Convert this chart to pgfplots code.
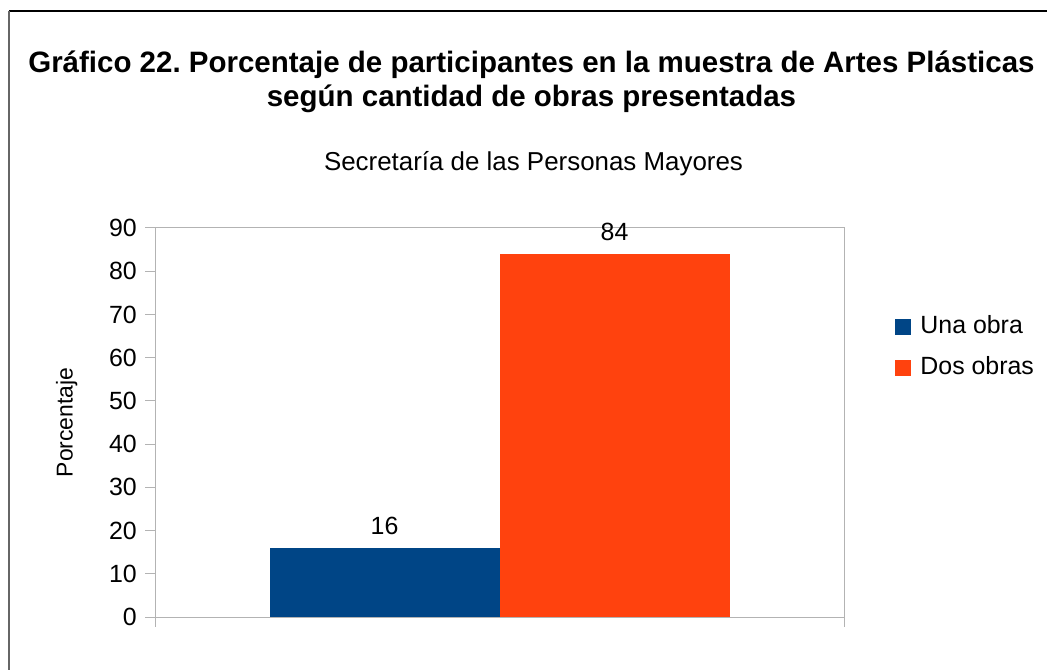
\documentclass[border=0pt]{standalone}
\usepackage{fontspec}
\setmainfont{Liberation Sans}
\usepackage{pgfplots}
\pgfplotsset{compat=1.18}
\definecolor{cblue}{HTML}{004586}
\definecolor{corange}{HTML}{FF420E}
\definecolor{cgrid}{HTML}{B3B3B3}
\frenchspacing
\begin{document}
\begin{tikzpicture}
\useasboundingbox (0bp,0bp) rectangle (1047bp,670bp);
\draw[black, line width=1.2bp] (9bp,659bp) -- (1047bp,659bp);
\draw[black!60, line width=2bp] (9bp,659bp) -- (9bp,0bp);
\node[anchor=base, font=\fontsize{29.6}{33}\selectfont\bfseries] at (531.5bp,597bp) {Gráfico 22. Porcentaje de participantes en la muestra de Artes Plásticas};
\node[anchor=base, font=\fontsize{29.6}{33}\selectfont\bfseries] at (531.5bp,563bp) {según cantidad de obras presentadas};
\node[anchor=base, font=\fontsize{26}{30}\selectfont] at (533.5bp,499bp) {Secretaría de las Personas Mayores};
\begin{axis}[
  at={(155bp,53bp)}, anchor=south west,
  scale only axis, width=689bp, height=389bp,
  ybar, bar width=230bp,
  xmin=0, xmax=1, ymin=0, ymax=90,
  xtick={0,1}, xticklabels={}, ytick={0,10,...,90},
  xtick pos=bottom, ytick pos=left,
  tick align=outside, major tick length=10bp,
  axis line style={cgrid, line width=1bp},
  every tick/.style={cgrid, line width=1bp},
  /pgf/number format/assume math mode=true,
  ticklabel style={font=\fontsize{25}{28}\selectfont},
  yticklabel style={anchor=east, inner sep=0pt, xshift=-8bp},
  ylabel={Porcentaje},
  ylabel style={at={(axis description cs:-0.128,0.5)}, anchor=center, font=\fontsize{23}{26}\selectfont},
  nodes near coords,
  nodes near coords style={font=\fontsize{25}{28}\selectfont, anchor=base, inner sep=0pt, yshift=13bp, black},
  legend style={at={(axis description cs:1.07,0.692)}, anchor=west, draw=none, fill=none,
    font=\fontsize{25}{28}\selectfont, row sep=18bp, column sep=0bp,
    nodes={inner sep=0pt, text height=18bp, text depth=5bp}},
  legend cell align=left,
  legend image code/.code={\fill[#1,draw=none] (0bp,-8bp) rectangle (16bp,8bp); \path (25bp,0bp);},
]
\addplot[fill=cblue, draw=none, bar shift=-115bp] coordinates {(0.5,16)};
\addplot[fill=corange, draw=none, bar shift=115bp] coordinates {(0.5,84)};
\legend{Una obra, Dos obras}
\end{axis}
\end{tikzpicture}
\end{document}
